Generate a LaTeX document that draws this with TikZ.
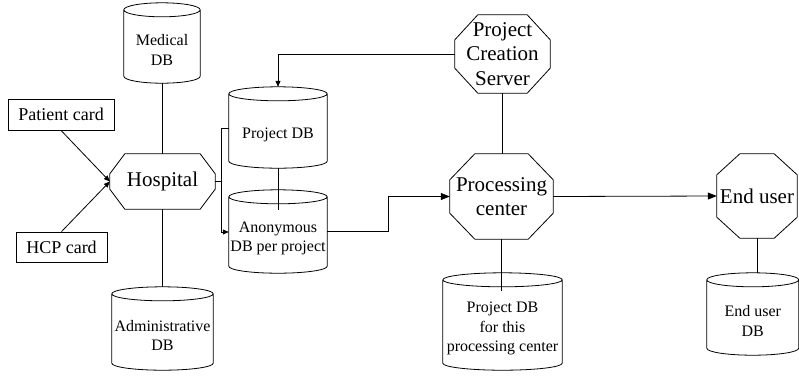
\documentclass[tikz,border=0pt]{standalone}
\usepackage{fontspec}
\setmainfont{Liberation Serif}
\newfontfamily\tnr{Liberation Serif}
\usetikzlibrary{arrows.meta,calc}
\newcommand\dbcyl[1]{\draw[shp] let \p1=(#1.north west), \p2=(#1.south east), \n1={(\x2-\x1)/2} in
  (\x1,\y1+7pt) arc[start angle=180,end angle=-180,x radius=\n1,y radius=7pt]
  (\x1,\y1+7pt) -- (\x1,\y2+7pt) arc[start angle=180,end angle=360,x radius=\n1,y radius=7pt] -- (\x2,\y1+7pt);}
\newcommand\octo[3]{\draw[shp] let \p1=(#1.north west), \p2=(#1.south east) in
  (\x1+#2pt,\y1) -- (\x2-#2pt,\y1) -- (\x2,\y1-#3pt) -- (\x2,\y2+#3pt) -- (\x2-#2pt,\y2) -- (\x1+#2pt,\y2) -- (\x1,\y2+#3pt) -- (\x1,\y1-#3pt) -- cycle;}
\tikzset{
  shp/.style={line width=0.8pt},
  conn/.style={line width=0.8pt},
  arr/.style={conn,-{Triangle[length=9pt,width=7pt]}},
  sarr/.style={conn,-{Triangle[length=6pt,width=5pt]}},
  oct/.style={rectangle,draw=none,inner sep=0pt,align=center,font=\tnr\fontsize{21}{24.5}\selectfont},
  card/.style={rectangle,draw,line width=0.8pt,inner sep=0pt,align=center,font=\tnr\fontsize{18}{21}\selectfont},
  db/.style={rectangle,draw=none,inner sep=0pt,align=center,font=\tnr\fontsize{16}{19.5}\selectfont},
}
\begin{document}
\begin{tikzpicture}[x=1pt,y=-1pt]
\useasboundingbox (0,0) rectangle (799,376);
% octagons
\node[oct,minimum width=105pt,minimum height=55pt] (hosp) at (162.5,181.5) {Hospital};
\node[oct,minimum width=95pt,minimum height=78pt] (pcs) at (502.5,54) {Project\\Creation\\Server};
\node[oct,minimum width=103pt,minimum height=85pt] (proc) at (501.5,196.5) {Processing\\center};
\node[oct,minimum width=80pt,minimum height=84pt] (eu) at (757,196) {End user};
\octo{hosp}{15}{20}
\octo{pcs}{23}{25}
\octo{proc}{25}{26}
\octo{eu}{23}{21}
% cards
\node[card,minimum width=106pt,minimum height=31pt] (patient) at (61,114.5) {Patient card};
\node[card,minimum width=91pt,minimum height=30pt] (hcp) at (61.5,247) {HCP card};
% databases
\node[db,minimum width=76pt,minimum height=66pt] (med) at (162,50) {Medical\\DB};
\node[db,minimum width=101pt,minimum height=69pt] (adm) at (162.5,335.5) {Administrative\\DB};
\node[db,minimum width=98pt,minimum height=67pt] (projdb) at (278,134.5) {Project DB};
\node[db,minimum width=98pt,minimum height=69pt] (anon) at (278,238.5) {Anonymous\\DB per project};
\node[db,minimum width=119pt,minimum height=83pt] (procdb) at (502.5,328.5) {Project DB\\for this\\processing center};
\node[db,minimum width=91.5pt,minimum height=68pt] (eudb) at (752.75,321) {End user\\DB};
\dbcyl{med}
\dbcyl{adm}
\dbcyl{projdb}
\dbcyl{anon}
\dbcyl{procdb}
\dbcyl{eudb}
\coordinate (admtop) at ([yshift=14pt]adm.north);
\coordinate (projtop) at ([yshift=14pt]projdb.north);
\coordinate (eutop) at ([yshift=14pt]eudb.north);
% connectors
\draw[conn] (hosp.north) -- (hosp.north |- med.south);
\draw[conn] (hosp.south) -- (hosp.south |- admtop);
\draw[sarr] (patient.south) -- (hosp.west);
\draw[sarr] (hcp.north) -- (hosp.west);
\draw[conn] (hosp.east) -- ++(6,0);
\draw[sarr] ([yshift=6.5pt]projdb.west) -| ([xshift=6pt]hosp.east) |- ([yshift=6.5pt]anon.west);
\draw[conn] (projdb.south) -- ([yshift=-6pt]anon.north);
\draw[sarr] (pcs.west) -| (projtop);
\draw[conn] (pcs.south) -- (pcs.south |- proc.north);
\draw[arr] ([yshift=7pt]anon.east) -- ++(61,0) |- (proc.west);
\draw[arr] (proc.east) -- (eu.west);
\draw[conn] (proc.south) -- ([yshift=-4pt]proc.south |- procdb.north);
\draw[conn] (eu.south) -- (eu.south |- eutop);
\end{tikzpicture}
\end{document}
